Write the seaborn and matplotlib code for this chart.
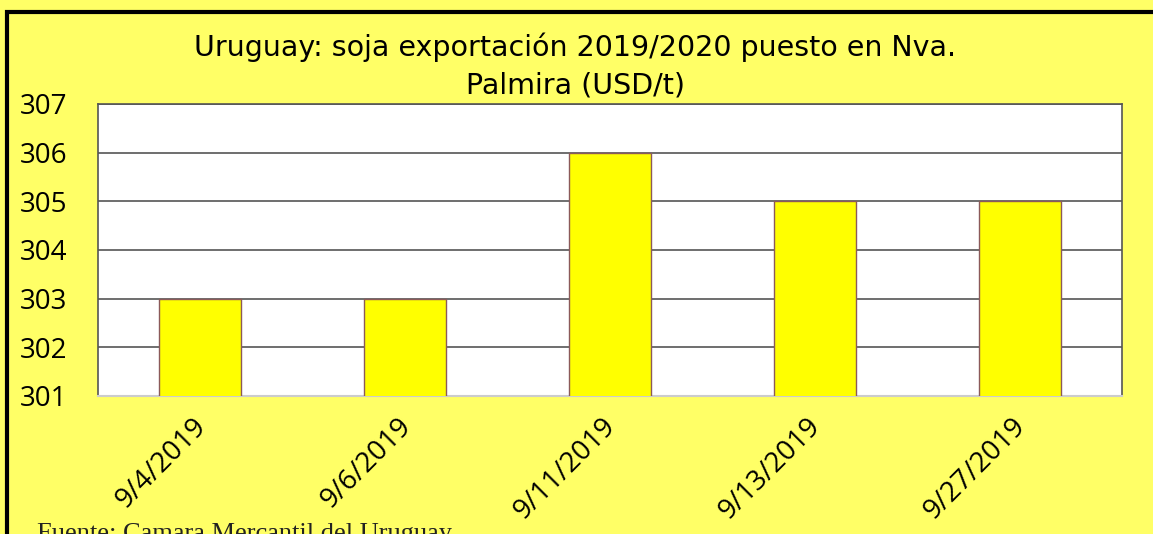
import matplotlib
matplotlib.use('Agg')
import matplotlib.pyplot as plt
import matplotlib.transforms as mtransforms
import seaborn as sns
import pandas as pd
from matplotlib.patches import Rectangle

fechas = ['9/4/2019', '9/6/2019', '9/11/2019', '9/13/2019', '9/27/2019']
precios = [303, 303, 306, 305, 305]
y_ticks = [301, 302, 303, 304, 305, 306, 307]

titulo = 'Uruguay: soja exportación 2019/2020 puesto en Nva.\nPalmira (USD/t)'
fuente = 'Fuente: Camara Mercantil del Uruguay'

df = pd.DataFrame({'fecha': fechas, 'precio': precios})

sns.set_style('white')
fondo = '#FFFF66'

fig = plt.figure(figsize=(11.53, 5.34), dpi=100, facecolor=fondo)
ax = fig.add_axes([98 / 1153, 1 - 396 / 534, (1122 - 98) / 1153, (396 - 104) / 534])
ax.set_facecolor('white')

sns.barplot(data=df, x='fecha', y='precio', color='#FFFF00', width=0.4,
            edgecolor='#8B5A5A', linewidth=1, saturation=1, ax=ax, zorder=3)

ax.set_ylim(301, 307)
ax.set_yticks(y_ticks)
ax.yaxis.grid(True, color='#555555', linewidth=1.2, zorder=0)
ax.set_axisbelow(True)
ax.set_xlabel('')
ax.set_ylabel('')

ax.tick_params(axis='y', length=0, pad=22, labelsize=20, labelcolor='black')
ax.tick_params(axis='x', length=0, pad=12, labelsize=20, labelcolor='black')
for lbl in ax.get_yticklabels():
    lbl.set_fontfamily('Open Sans')
shift = mtransforms.ScaledTranslation(-8 / 100, 0, fig.dpi_scale_trans)
for lbl in ax.get_xticklabels():
    lbl.set_fontfamily('Open Sans')
    lbl.set_rotation(45)
    lbl.set_horizontalalignment('right')
    lbl.set_rotation_mode('anchor')
    lbl.set_transform(lbl.get_transform() + shift)

for side in ['top', 'right', 'left']:
    ax.spines[side].set_color('#555555')
    ax.spines[side].set_linewidth(1.2)
ax.spines['bottom'].set_color('#cccccc')
ax.spines['bottom'].set_linewidth(1.5)

fig.text(0.499, 1 - 66 / 534, titulo, ha='center', va='center', fontsize=20.5,
         family='DejaVu Sans', linespacing=1.4, color='black')
fig.text(37 / 1153, 1 - 534 / 534, fuente, ha='left', va='center', fontsize=19,
         family='Liberation Serif', color='#222222')

fig.patches.append(Rectangle((7 / 1153, -0.1), 1.2, 1 - 12 / 534 + 0.1,
                             transform=fig.transFigure, fill=False,
                             edgecolor='black', linewidth=3))

fig.savefig('out.png', dpi=100, facecolor=fondo)
